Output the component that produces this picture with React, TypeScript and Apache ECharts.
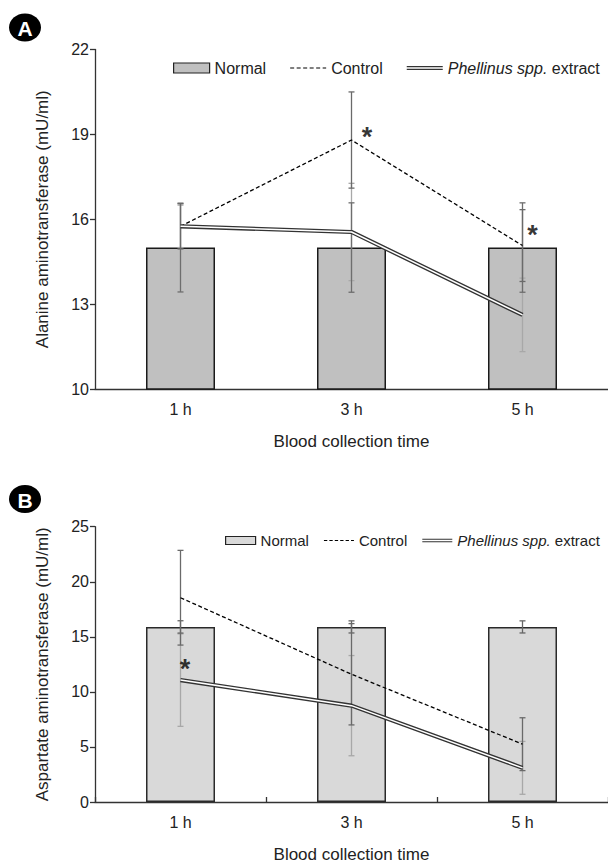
import React, { useEffect, useRef } from "react";
import * as echarts from "echarts";

const categories = ["1 h", "3 h", "5 h"];

// Panel A: Alanine aminotransferase
const altNormal = [15, 15, 15];
const altNormalSD = [1.57, 1.58, 1.58];
const altControl = [15.75, 18.8, 15.07];
const altControlSD = [0.8, 1.7, 1.27];
const altPhellinus = [15.75, 15.55, 12.62];
const altPhellinusSD = [0.75, 1.72, 1.3];
const altTicks = { min: 10, max: 22, interval: 3 };

// Panel B: Aspartate aminotransferase
const astNormal = [15.9, 15.9, 15.9];
const astNormalSD = [0.56, 0.55, 0.55];
const astControl = [18.55, 11.6, 5.25];
const astControlSD = [4.3, 4.6, 2.4];
const astPhellinus = [11.07, 8.75, 3.1];
const astPhellinusSD = [4.2, 4.55, 2.4];
const astTicks = { min: 0, max: 25, interval: 5 };

const FONT = "'Liberation Sans', Arial, sans-serif";
const PH = "Phellinus spp. extract";

const dashIcon =
  "path://M0,0h4v1.2h-4z M6.5,0h4v1.2h-4z M13,0h4v1.2h-4z M19.5,0h4v1.2h-4z M26,0h4v1.2h-4z M32.5,0h3.5v1.2h-3.5z";
const doubleIcon = "path://M0,0h36v1.3h-36z M0,2.9h36v1.3h-36z";

function errData(mean: number[], sd: number[]) {
  return mean.map((m, i) => [i, m - sd[i], m + sd[i]]);
}

function errSeries(name: string, idx: number, data: number[][], color: string, z: number) {
  return {
    name,
    type: "custom",
    xAxisIndex: idx,
    yAxisIndex: idx,
    z,
    silent: true,
    encode: { x: 0, y: [1, 2] },
    data,
    renderItem: (params: any, api: any) => {
      const x = api.value(0);
      const lo = api.coord([x, api.value(1)]);
      const hi = api.coord([x, api.value(2)]);
      const w = 3;
      const st = { stroke: color, lineWidth: 1.3 };
      return {
        type: "group",
        children: [
          { type: "line", shape: { x1: hi[0], y1: hi[1], x2: lo[0], y2: lo[1] }, style: st },
          { type: "line", shape: { x1: hi[0] - w, y1: hi[1], x2: hi[0] + w, y2: hi[1] }, style: st },
          { type: "line", shape: { x1: lo[0] - w, y1: lo[1], x2: lo[0] + w, y2: lo[1] }, style: st },
        ],
      };
    },
  };
}

function starSeries(idx: number, data: number[][], offsets: number[][]) {
  return {
    type: "scatter",
    xAxisIndex: idx,
    yAxisIndex: idx,
    z: 10,
    silent: true,
    symbolSize: 1,
    itemStyle: { color: "rgba(0,0,0,0)" },
    data: data.map((d, i) => ({
      value: d,
      label: {
        show: true,
        formatter: "*",
        position: "inside",
        offset: offsets[i],
        fontSize: 27,
        fontWeight: "bold",
        color: "#000",
        fontFamily: FONT,
      },
    })),
  };
}

function lineSeries(idx: number, data: number[], phellinus: boolean) {
  if (!phellinus) {
    return [
      {
        name: "Control",
        type: "line",
        xAxisIndex: idx,
        yAxisIndex: idx,
        z: 6,
        symbol: "none",
        data,
        lineStyle: { color: "#000", width: 1.3, type: [4, 2.5] },
        itemStyle: { color: "#000" },
      },
    ];
  }
  return [
    {
      name: PH,
      type: "line",
      xAxisIndex: idx,
      yAxisIndex: idx,
      z: 7,
      symbol: "none",
      data,
      lineStyle: { color: "#333", width: 4.2 },
      itemStyle: { color: "#333" },
    },
    {
      name: "ph-inner",
      type: "line",
      xAxisIndex: idx,
      yAxisIndex: idx,
      z: 8,
      symbol: "none",
      data,
      lineStyle: { color: "#fff", width: 1.5 },
      itemStyle: { color: "#fff" },
    },
  ];
}

function legendFor(left: number, top: number, iw: number, ih: number, gap: number, fill: string, fs: number) {
  return {
    left,
    top,
    width: 900,
    orient: "horizontal",
    itemWidth: iw,
    itemHeight: ih,
    itemGap: gap,
    selectedMode: false,
    textStyle: {
      fontSize: fs,
      color: "#222",
      fontFamily: FONT,
      rich: { i: { fontStyle: "italic", fontSize: fs, color: "#222", fontFamily: FONT } },
    },
    formatter: (n: string) => (n === PH ? "{i|Phellinus spp.} extract" : n),
    data: [
      { name: "Normal", icon: "rect", itemStyle: { color: fill, borderColor: "#222", borderWidth: 1.2 } },
      { name: "Control", icon: dashIcon, itemStyle: { color: "#000", borderWidth: 0 } },
      { name: PH, icon: doubleIcon, itemStyle: { color: "#333", borderWidth: 0 } },
    ],
  };
}

const axisLineStyle = { color: "#333", width: 1.3 };
const labelStyle = { fontSize: 16, color: "#222", fontFamily: FONT };
const nameStyle = { fontSize: 17, color: "#222", fontFamily: FONT };

export default function App() {
  const ref = useRef<HTMLDivElement>(null);
  useEffect(() => {
    document.body.style.margin = "0";
    if (!ref.current) return;
    const chart = echarts.init(ref.current, undefined, { renderer: "svg" });
    const option: any = {
      animation: false,
      backgroundColor: "#fff",
      textStyle: { fontFamily: FONT },
      grid: [
        { left: 95, top: 49.5, width: 515, height: 339.5 },
        { left: 95, top: 526.7, width: 516, height: 281 },
      ],
      legend: [
        legendFor(168, 55, 36, 10, 24, "#c0c0c0", 16),
        legendFor(220, 528, 30, 8, 15, "#d9d9d9", 15),
      ],
      xAxis: [
        {
          type: "category",
          gridIndex: 0,
          data: categories,
          axisLine: { lineStyle: axisLineStyle },
          axisTick: { show: false },
          axisLabel: { ...labelStyle, margin: 12 },
          name: "Blood collection time",
          nameLocation: "middle",
          nameGap: 44,
          nameTextStyle: nameStyle,
        },
        {
          type: "category",
          gridIndex: 1,
          data: categories,
          axisLine: { lineStyle: axisLineStyle },
          axisTick: { show: true, inside: true, length: 5, alignWithLabel: false, interval: 0, lineStyle: axisLineStyle },
          axisLabel: { ...labelStyle, margin: 12 },
          name: "Blood collection time",
          nameLocation: "middle",
          nameGap: 44,
          nameTextStyle: nameStyle,
        },
      ],
      yAxis: [
        {
          type: "value",
          gridIndex: 0,
          min: altTicks.min,
          max: altTicks.max,
          interval: altTicks.interval,
          axisLine: { show: true, lineStyle: axisLineStyle },
          axisTick: { show: true, length: 5, lineStyle: axisLineStyle },
          splitLine: { show: false },
          axisLabel: { ...labelStyle, margin: 6 },
          name: "Alanine aminotransferase (mU/ml)",
          nameLocation: "middle",
          nameGap: 44,
          nameTextStyle: nameStyle,
        },
        {
          type: "value",
          gridIndex: 1,
          min: astTicks.min,
          max: astTicks.max,
          interval: astTicks.interval,
          axisLine: { show: true, lineStyle: axisLineStyle },
          axisTick: { show: true, length: 5, lineStyle: axisLineStyle },
          splitLine: { show: false },
          axisLabel: { ...labelStyle, margin: 6 },
          name: "Aspartate aminotransferase (mU/ml)",
          nameLocation: "middle",
          nameGap: 44,
          nameTextStyle: nameStyle,
        },
      ],
      graphic: [
        { type: "ellipse", shape: { cx: 25, cy: 27.5, rx: 16, ry: 14 }, style: { fill: "#000" } },
        {
          type: "text",
          x: 25,
          y: 28.5,
          style: { text: "A", fill: "#fff", font: `bold 21px ${FONT}`, textAlign: "center", textVerticalAlign: "middle", align: "center", verticalAlign: "middle" },
        },
        { type: "ellipse", shape: { cx: 25, cy: 499, rx: 16, ry: 14 }, style: { fill: "#000" } },
        {
          type: "text",
          x: 25,
          y: 500,
          style: { text: "B", fill: "#fff", font: `bold 21px ${FONT}`, textAlign: "center", textVerticalAlign: "middle", align: "center", verticalAlign: "middle" },
        },
      ],
      series: [
        {
          name: "Normal",
          type: "bar",
          xAxisIndex: 0,
          yAxisIndex: 0,
          barWidth: 69,
          z: 2,
          data: altNormal,
          itemStyle: { color: "#c0c0c0", borderColor: "#1a1a1a", borderWidth: 1.5 },
        },
        errSeries("err-ph-a", 0, errData(altPhellinus, altPhellinusSD), "#a8a8a8", 3),
        errSeries("err-n-a", 0, errData(altNormal, altNormalSD), "#6e6e6e", 4),
        errSeries("err-c-a", 0, errData(altControl, altControlSD), "#6a6a6a", 5),
        ...lineSeries(0, altControl, false),
        ...lineSeries(0, altPhellinus, true),
        starSeries(0, [[1, altControl[1]], [2, altControl[2]]], [[15.4, -3.3], [10, -10.3]]),

        {
          name: "Normal",
          type: "bar",
          xAxisIndex: 1,
          yAxisIndex: 1,
          barWidth: 69,
          z: 2,
          data: astNormal,
          itemStyle: { color: "#d9d9d9", borderColor: "#2a2a2a", borderWidth: 1.5 },
        },
        errSeries("err-ph-b", 1, errData(astPhellinus, astPhellinusSD), "#a8a8a8", 3),
        errSeries("err-n-b", 1, errData(astNormal, astNormalSD), "#666", 4),
        errSeries("err-c-b", 1, errData(astControl, astControlSD), "#6a6a6a", 5),
        ...lineSeries(1, astControl, false),
        ...lineSeries(1, astPhellinus, true),
        starSeries(1, [[0, astPhellinus[0]]], [[4.6, -10.6]]),
      ],
    };
    chart.setOption(option);
    return () => chart.dispose();
  }, []);
  return <div ref={ref} style={{ width: 608, height: 864 }} />;
}
